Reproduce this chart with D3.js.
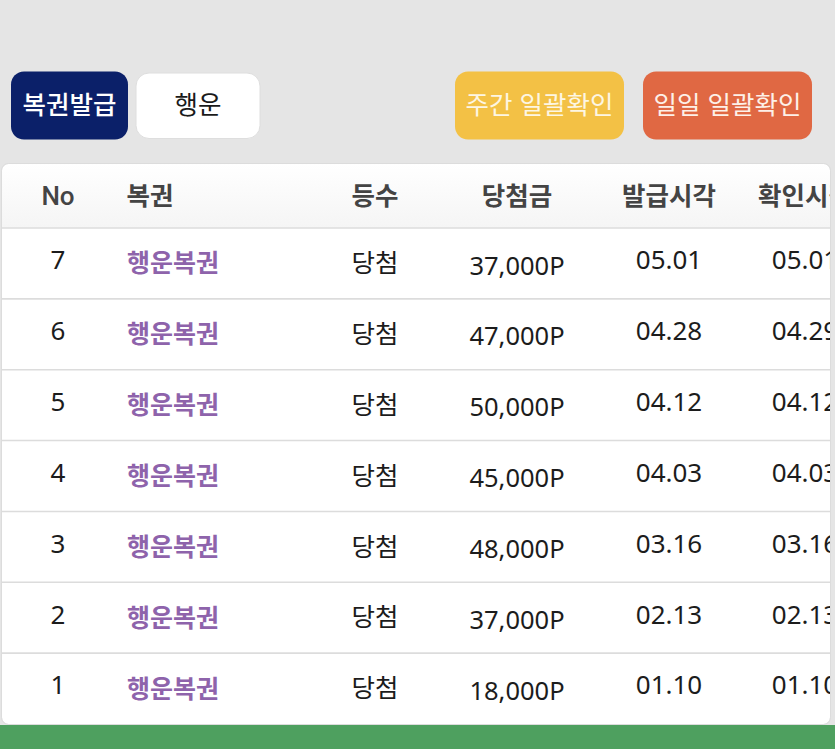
<!DOCTYPE html>
<html lang="ko"><head><meta charset="utf-8">
<script src="https://cdnjs.cloudflare.com/ajax/libs/d3/7.8.5/d3.min.js"></script>
<style>html,body{margin:0;padding:0;background:#e5e5e5;overflow:hidden}svg{display:block}
svg{font-family:"Noto Sans CJK KR","Noto Sans",sans-serif}</style></head><body>
<svg id="c" width="835" height="749"></svg>
<script>
const columns = ["No","복권","등수","당첨금","발급시각","확인시각"];
const numbers = [7,6,5,4,3,2,1];
const tickets = ["행운복권","행운복권","행운복권","행운복권","행운복권","행운복권","행운복권"];
const ranks = ["당첨","당첨","당첨","당첨","당첨","당첨","당첨"];
const prizes = [37000,47000,50000,45000,48000,37000,18000];
const issued = ["05.01","04.28","04.12","04.03","03.16","02.13","01.10"];
const checked = ["05.01","04.29","04.12","04.03","03.16","02.13","01.10"];
const buttons = [
 {t:"복권발급",x0:11,x1:128,fill:"#0b2069",color:"#fff",stroke:"none",w:500,fs:25.5},
 {t:"행운",x0:136,x1:260,fill:"#fff",color:"#1a1a1a",stroke:"#dedede",w:400,fs:25.5},
 {t:"주간 일괄확인",x0:455,x1:624,fill:"#f3c145",color:"#fdf6e3",stroke:"none",w:400,fs:25.5},
 {t:"일일 일괄확인",x0:643,x1:812,fill:"#e06843",color:"#fdf0e8",stroke:"none",w:400,fs:25.5}
];
const svg = d3.select("#c");
const defs = svg.append("defs");
const g = defs.append("linearGradient").attr("id","hd").attr("x1",0).attr("x2",0).attr("y1",0).attr("y2",1);
g.append("stop").attr("offset",0).attr("stop-color","#ffffff");
g.append("stop").attr("offset",1).attr("stop-color","#f5f5f5");
defs.append("clipPath").attr("id","tc").append("rect").attr("x",2).attr("y",164).attr("width",828).attr("height",560).attr("rx",7);

// footer
svg.append("rect").attr("x",0).attr("y",725).attr("width",835).attr("height",24).attr("fill","#4ea05f");

// buttons
const bg = svg.selectAll("g.btn").data(buttons).join("g").attr("class","btn");
bg.append("rect").attr("x",d=>d.x0).attr("y",d=>d.stroke==="none"?71.5:73).attr("width",d=>d.x1-d.x0)
  .attr("height",d=>d.stroke==="none"?68:65.5).attr("rx",13).attr("fill",d=>d.fill).attr("stroke",d=>d.stroke);
bg.append("text").attr("x",d=>(d.x0+d.x1)/2).attr("y",105).attr("dy","0.36em").attr("text-anchor","middle")
  .attr("font-size",d=>d.fs).attr("font-weight",d=>d.w).attr("fill",d=>d.color).text(d=>d.t);

// table
const cx = {"No":58,"복권":173,"등수":375,"당첨금":517,"발급시각":669,"확인시각":805};
const headX = {"No":58,"복권":150,"등수":375,"당첨금":517,"발급시각":669,"확인시각":805};
const rowY = d3.scaleBand().domain(numbers).range([228,724]);
const t = svg.append("g").attr("clip-path","url(#tc)");
t.append("rect").attr("x",2).attr("y",164).attr("width",828).attr("height",560).attr("fill","#fff");
t.append("rect").attr("x",2).attr("y",164).attr("width",828).attr("height",64).attr("fill","url(#hd)");
svg.append("rect").attr("x",1.5).attr("y",163.5).attr("width",829).attr("height",561).attr("rx",7)
  .attr("fill","none").attr("stroke","#dcdcdc");
t.selectAll("line.r").data(numbers).join("line").attr("class","r")
  .attr("x1",2).attr("x2",830).attr("y1",d=>rowY(d)).attr("y2",d=>rowY(d)).attr("stroke","#dcdcdc").attr("stroke-width",1.6);
t.selectAll("text.h").data(columns).join("text").attr("class","h")
  .attr("x",d=>headX[d]).attr("y",196).attr("dy","0.36em").attr("text-anchor","middle")
  .style("font-family",d=>d==="No"?"Roboto":null)
  .attr("font-size",d=>d==="No"?26:25.5).attr("font-weight",d=>d==="No"?500:700).attr("fill","#444").text(d=>d);
const rows = t.selectAll("g.row").data(numbers.map((n,i)=>({n,ticket:tickets[i],rank:ranks[i],prize:prizes[i],iss:issued[i],chk:checked[i]})))
  .join("g").attr("class","row").attr("transform",d=>`translate(0,${rowY(d.n)+rowY.bandwidth()/2})`);
const cell=(x,dy,fs,fw,col,ff,fn)=>rows.append("text").attr("x",x).attr("y",dy).attr("dy","0.36em").attr("text-anchor","middle")
  .style("font-family",ff).attr("font-size",fs).attr("font-weight",fw).attr("fill",col).text(fn);
const fmt=d3.format(",");
cell(cx["No"],-3.5,26,400,"#1c1c1c","Noto Sans",d=>d.n);
cell(cx["복권"],0,25,700,"#8e63ab",null,d=>d.ticket);
cell(cx["등수"],-0.5,25.5,400,"#1c1c1c",null,d=>d.rank);
cell(cx["당첨금"],2,25.5,400,"#1c1c1c","Noto Sans",d=>fmt(d.prize)+"P");
cell(cx["발급시각"],-3.5,26,400,"#1c1c1c","Noto Sans",d=>d.iss);
cell(cx["확인시각"],-3.5,26,400,"#1c1c1c","Noto Sans",d=>d.chk);
</script></body></html>
